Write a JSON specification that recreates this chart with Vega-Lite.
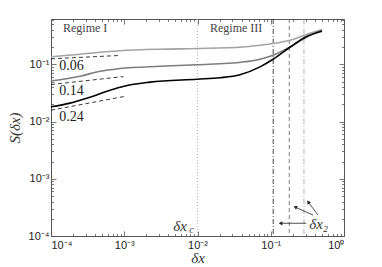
{
  "$schema": "https://vega.github.io/schema/vega-lite/v6.json",
  "autosize": "none",
  "padding": {"left": 51, "top": 19, "right": 38, "bottom": 31},
  "width": 293,
  "height": 217,
  "config": {
    "view": {"stroke": "#555", "strokeWidth": 1},
    "axis": {"grid": false}
  },
  "datasets": {
    "curves": [
      {"s": "a", "x": 0.0001, "y": 0.136},
      {"s": "a", "x": 0.000249, "y": 0.150},
      {"s": "a", "x": 0.000467, "y": 0.163},
      {"s": "a", "x": 0.000875, "y": 0.173},
      {"s": "a", "x": 0.00308, "y": 0.184},
      {"s": "a", "x": 0.00984, "y": 0.189},
      {"s": "a", "x": 0.0418, "y": 0.201},
      {"s": "a", "x": 0.0713, "y": 0.216},
      {"s": "a", "x": 0.1074, "y": 0.231},
      {"s": "a", "x": 0.183, "y": 0.264},
      {"s": "a", "x": 0.313, "y": 0.335},
      {"s": "a", "x": 0.501, "y": 0.405},
      {"s": "b", "x": 0.0001, "y": 0.0513},
      {"s": "b", "x": 0.000249, "y": 0.0619},
      {"s": "b", "x": 0.000467, "y": 0.0758},
      {"s": "b", "x": 0.000875, "y": 0.0845},
      {"s": "b", "x": 0.00308, "y": 0.0927},
      {"s": "b", "x": 0.00984, "y": 0.0985},
      {"s": "b", "x": 0.0418, "y": 0.110},
      {"s": "b", "x": 0.0713, "y": 0.123},
      {"s": "b", "x": 0.1074, "y": 0.144},
      {"s": "b", "x": 0.183, "y": 0.201},
      {"s": "b", "x": 0.313, "y": 0.301},
      {"s": "b", "x": 0.501, "y": 0.394},
      {"s": "c", "x": 0.0001, "y": 0.0181},
      {"s": "c", "x": 0.000182, "y": 0.0210},
      {"s": "c", "x": 0.000340, "y": 0.0267},
      {"s": "c", "x": 0.000638, "y": 0.0353},
      {"s": "c", "x": 0.000993, "y": 0.0415},
      {"s": "c", "x": 0.00225, "y": 0.0488},
      {"s": "c", "x": 0.00984, "y": 0.0550},
      {"s": "c", "x": 0.0203, "y": 0.0583},
      {"s": "c", "x": 0.0380, "y": 0.0658},
      {"s": "c", "x": 0.0713, "y": 0.0902},
      {"s": "c", "x": 0.1074, "y": 0.1227},
      {"s": "c", "x": 0.183, "y": 0.199},
      {"s": "c", "x": 0.313, "y": 0.309},
      {"s": "c", "x": 0.501, "y": 0.379}
    ],
    "slopes": [
      {"s": "0.06", "x": 0.0001, "y": 0.125},
      {"s": "0.06", "x": 0.000875, "y": 0.143},
      {"s": "0.14", "x": 0.0001, "y": 0.0444},
      {"s": "0.14", "x": 0.000977, "y": 0.0611},
      {"s": "0.24", "x": 0.0001, "y": 0.0158},
      {"s": "0.24", "x": 0.000993, "y": 0.0274}
    ],
    "slopeLabels": [
      {"t": "0.06", "x": 0.000130, "y": 0.0927},
      {"t": "0.14", "x": 0.000130, "y": 0.0344},
      {"t": "0.24", "x": 0.000130, "y": 0.0121}
    ],
    "vlines": [
      {"k": "c", "x": 0.01},
      {"k": "2a", "x": 0.108},
      {"k": "2b", "x": 0.179},
      {"k": "2c", "x": 0.284}
    ],
    "arrows": [
      {"x": 0.305, "y": 0.000167, "x2": 0.136, "y2": 0.000167},
      {"x": 0.378, "y": 0.000232, "x2": 0.216, "y2": 0.00032},
      {"x": 0.442, "y": 0.000232, "x2": 0.325, "y2": 0.000392}
    ],
    "regimes": [
      {"t": "Regime I", "x": 0.000146, "y": 0.44},
      {"t": "Regime III", "x": 0.0148, "y": 0.44}
    ]
  },
  "resolve": {"axis": {"x": "independent", "y": "independent"}},
  "layer": [
    {
      "data": {"name": "vlines"},
      "transform": [{"filter": "datum.k == 'c'"}],
      "mark": {"type": "rule", "strokeWidth": 0.9, "color": "#b0b0b0", "strokeDash": [1, 2]},
      "encoding": {
        "x": {
          "field": "x", "type": "quantitative",
          "scale": {"type": "log", "domain": [0.0001, 1], "nice": false, "zero": false},
          "axis": {
            "orient": "top", "title": null, "labels": false, "domain": false,
            "values": [0.0001, 0.0002, 0.0003, 0.0004, 0.0005, 0.0006, 0.0007, 0.0008, 0.0009, 0.001, 0.002, 0.003, 0.004, 0.005, 0.006, 0.007, 0.008, 0.009, 0.01, 0.02, 0.03, 0.04, 0.05, 0.06, 0.07, 0.08, 0.09, 0.1, 0.2, 0.3, 0.4, 0.5, 0.6, 0.7, 0.8, 0.9, 1],
            "tickColor": "#555", "tickWidth": 0.8,
            "tickSize": {"condition": {"test": "abs(log(datum.value)/LN10 - round(log(datum.value)/LN10)) < 0.01", "value": -5}, "value": -2.5}
          }
        }
      }
    },
    {
      "data": {"name": "vlines"},
      "transform": [{"filter": "datum.k == '2a'"}],
      "mark": {"type": "rule", "strokeWidth": 0.9, "color": "#333333", "strokeDash": [5, 2, 1, 2]},
      "encoding": {"x": {"field": "x", "type": "quantitative", "axis": null}}
    },
    {
      "data": {"name": "vlines"},
      "transform": [{"filter": "datum.k == '2b'"}],
      "mark": {"type": "rule", "strokeWidth": 0.9, "color": "#707070", "strokeDash": [4, 3]},
      "encoding": {"x": {"field": "x", "type": "quantitative", "axis": null}}
    },
    {
      "data": {"name": "vlines"},
      "transform": [{"filter": "datum.k == '2c'"}],
      "mark": {"type": "rule", "strokeWidth": 0.9, "color": "#a8a8a8", "strokeDash": [5, 2, 1, 2]},
      "encoding": {"x": {"field": "x", "type": "quantitative", "axis": null}}
    },
    {
      "data": {"name": "curves"},
      "mark": {"type": "line", "strokeWidth": 1.6, "interpolate": "monotone"},
      "encoding": {
        "x": {
          "field": "x", "type": "quantitative",
          "axis": {
            "orient": "bottom", "title": "δx", "values": [0.0001, 0.001, 0.01, 0.1, 1],
            "ticks": false, "domain": false, "labelPadding": 3,
            "labelFont": "Liberation Sans", "labelFontSize": 11, "labelColor": "#222",
            "labelExpr": "datum.value < 0.0005 ? '10⁻⁴' : datum.value < 0.005 ? '10⁻³' : datum.value < 0.05 ? '10⁻²' : datum.value < 0.5 ? '10⁻¹' : '10⁰'",
            "titleFont": "Liberation Serif", "titleFontStyle": "italic", "titleFontWeight": "normal",
            "titleFontSize": 15, "titleColor": "#333", "titlePadding": 0
          }
        },
        "y": {
          "field": "y", "type": "quantitative",
          "scale": {"type": "log", "domain": [0.0001, 0.62], "nice": false, "zero": false},
          "axis": {
            "orient": "left", "title": "S(δx)", "values": [0.0001, 0.001, 0.01, 0.1],
            "ticks": false, "domain": false, "labelPadding": 2,
            "labelFont": "Liberation Sans", "labelFontSize": 11, "labelColor": "#222",
            "labelExpr": "datum.value < 0.0005 ? '10⁻⁴' : datum.value < 0.005 ? '10⁻³' : datum.value < 0.05 ? '10⁻²' : '10⁻¹'",
            "titleFont": "Liberation Serif", "titleFontStyle": "italic", "titleFontWeight": "normal",
            "titleFontSize": 15, "titleColor": "#333", "titlePadding": 6
          }
        },
        "color": {
          "field": "s", "type": "nominal",
          "scale": {"domain": ["a", "b", "c"], "range": ["#a3a3a3", "#7d7d7d", "#000000"]},
          "legend": null
        }
      }
    },
    {
      "data": {"name": "slopes"},
      "mark": {"type": "line", "strokeDash": [4, 3], "strokeWidth": 0.9, "color": "#222"},
      "encoding": {
        "x": {
          "field": "x", "type": "quantitative",
          "axis": {
            "orient": "bottom", "title": null, "labels": false, "domain": false,
            "values": [0.0001, 0.0002, 0.0003, 0.0004, 0.0005, 0.0006, 0.0007, 0.0008, 0.0009, 0.001, 0.002, 0.003, 0.004, 0.005, 0.006, 0.007, 0.008, 0.009, 0.01, 0.02, 0.03, 0.04, 0.05, 0.06, 0.07, 0.08, 0.09, 0.1, 0.2, 0.3, 0.4, 0.5, 0.6, 0.7, 0.8, 0.9, 1],
            "tickColor": "#555", "tickWidth": 0.8,
            "tickSize": {"condition": {"test": "abs(log(datum.value)/LN10 - round(log(datum.value)/LN10)) < 0.01", "value": -5}, "value": -2.5}
          }
        },
        "y": {
          "field": "y", "type": "quantitative",
          "axis": {
            "orient": "left", "title": null, "labels": false, "domain": false,
            "values": [0.0001, 0.0002, 0.0003, 0.0004, 0.0005, 0.0006, 0.0007, 0.0008, 0.0009, 0.001, 0.002, 0.003, 0.004, 0.005, 0.006, 0.007, 0.008, 0.009, 0.01, 0.02, 0.03, 0.04, 0.05, 0.06, 0.07, 0.08, 0.09, 0.1, 0.2, 0.3, 0.4, 0.5, 0.6],
            "tickColor": "#555", "tickWidth": 0.8,
            "tickSize": {"condition": {"test": "abs(log(datum.value)/LN10 - round(log(datum.value)/LN10)) < 0.01", "value": -5}, "value": -2.5}
          }
        },
        "detail": {"field": "s", "type": "nominal"}
      }
    },
    {
      "data": {"name": "arrows"},
      "mark": {"type": "rule", "strokeWidth": 0.8, "color": "#222"},
      "encoding": {
        "x": {"field": "x", "type": "quantitative", "axis": null},
        "y": {
          "field": "y", "type": "quantitative",
          "axis": {
            "orient": "right", "title": null, "labels": false, "domain": false,
            "values": [0.0001, 0.0002, 0.0003, 0.0004, 0.0005, 0.0006, 0.0007, 0.0008, 0.0009, 0.001, 0.002, 0.003, 0.004, 0.005, 0.006, 0.007, 0.008, 0.009, 0.01, 0.02, 0.03, 0.04, 0.05, 0.06, 0.07, 0.08, 0.09, 0.1, 0.2, 0.3, 0.4, 0.5, 0.6],
            "tickColor": "#555", "tickWidth": 0.8,
            "tickSize": {"condition": {"test": "abs(log(datum.value)/LN10 - round(log(datum.value)/LN10)) < 0.01", "value": -5}, "value": -2.5}
          }
        },
        "x2": {"field": "x2"},
        "y2": {"field": "y2"}
      }
    },
    {
      "data": {"name": "arrows"},
      "transform": [{"filter": "datum.y == datum.y2"}],
      "mark": {"type": "point", "shape": "triangle-up", "angle": 270, "filled": true, "size": 18, "color": "#222", "opacity": 1},
      "encoding": {
        "x": {"field": "x2", "type": "quantitative", "axis": null},
        "y": {"field": "y2", "type": "quantitative", "axis": null}
      }
    },
    {
      "data": {"name": "arrows"},
      "transform": [{"filter": "datum.y != datum.y2 && datum.x < 0.4"}],
      "mark": {"type": "point", "shape": "triangle-up", "angle": 294, "filled": true, "size": 18, "color": "#222", "opacity": 1},
      "encoding": {
        "x": {"field": "x2", "type": "quantitative", "axis": null},
        "y": {"field": "y2", "type": "quantitative", "axis": null}
      }
    },
    {
      "data": {"name": "arrows"},
      "transform": [{"filter": "datum.y != datum.y2 && datum.x > 0.4"}],
      "mark": {"type": "point", "shape": "triangle-up", "angle": 322, "filled": true, "size": 18, "color": "#222", "opacity": 1},
      "encoding": {
        "x": {"field": "x2", "type": "quantitative", "axis": null},
        "y": {"field": "y2", "type": "quantitative", "axis": null}
      }
    },
    {
      "data": {"name": "slopeLabels"},
      "mark": {"type": "text", "align": "left", "baseline": "middle", "font": "Liberation Serif", "fontSize": 14, "color": "#222"},
      "encoding": {
        "x": {"field": "x", "type": "quantitative", "axis": null},
        "y": {"field": "y", "type": "quantitative", "axis": null},
        "text": {"field": "t"}
      }
    },
    {
      "data": {"name": "regimes"},
      "mark": {"type": "text", "align": "left", "baseline": "middle", "font": "Liberation Serif", "fontSize": 12, "color": "#444"},
      "encoding": {
        "x": {"field": "x", "type": "quantitative", "axis": null},
        "y": {"field": "y", "type": "quantitative", "axis": null},
        "text": {"field": "t"}
      }
    },
    {
      "data": {"values": [{"t": "δx", "x": 0.0058, "y": 0.00015}]},
      "mark": {"type": "text", "align": "center", "baseline": "middle", "font": "Liberation Serif", "fontStyle": "italic", "fontSize": 15, "color": "#333"},
      "encoding": {
        "x": {"field": "x", "type": "quantitative", "axis": null},
        "y": {"field": "y", "type": "quantitative", "axis": null},
        "text": {"field": "t"}
      }
    },
    {
      "data": {"values": [{"t": "c", "x": 0.0058, "y": 0.00015}]},
      "mark": {"type": "text", "align": "left", "baseline": "middle", "dx": 9, "dy": 4, "font": "Liberation Serif", "fontStyle": "italic", "fontSize": 10, "color": "#333"},
      "encoding": {
        "x": {"field": "x", "type": "quantitative", "axis": null},
        "y": {"field": "y", "type": "quantitative", "axis": null},
        "text": {"field": "t"}
      }
    },
    {
      "data": {"values": [{"t": "δx₂", "x": 0.45, "y": 0.000162}]},
      "mark": {"type": "text", "align": "center", "baseline": "middle", "font": "Liberation Serif", "fontStyle": "italic", "fontSize": 15, "color": "#333"},
      "encoding": {
        "x": {"field": "x", "type": "quantitative", "axis": null},
        "y": {"field": "y", "type": "quantitative", "axis": null},
        "text": {"field": "t"}
      }
    }
  ]
}
